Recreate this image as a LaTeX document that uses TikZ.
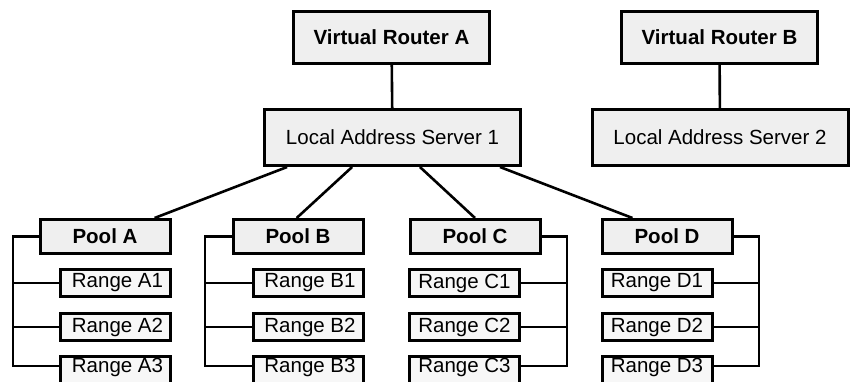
\documentclass[tikz,border=0pt]{standalone}
\usepackage{fontspec}
\setmainfont{Liberation Sans}
\usetikzlibrary{calc}
\definecolor{boxgray}{HTML}{EFEFEF}
\definecolor{rangegray}{HTML}{F7F7F7}
\begin{document}
\begin{tikzpicture}[x=1pt,y=-1pt,
  basebox/.style={draw, line width=3pt, fill=boxgray, inner sep=0pt, font=\fontsize{20.5}{24}\selectfont},
  routerbox/.style={basebox, font=\fontsize{20.5}{24}\selectfont\bfseries, minimum width=196pt, minimum height=52pt},
  serverbox/.style={basebox, minimum width=256pt, minimum height=56pt},
  poolbox/.style={basebox, font=\fontsize{20.5}{24}\selectfont\bfseries, minimum width=130pt, minimum height=34pt},
  rangebox/.style={basebox, fill=rangegray, minimum width=110pt, minimum height=27pt},
  rangetext/.style={font=\fontsize{20.5}{24}\selectfont},
  conn/.style={line width=2.6pt}]
\useasboundingbox (0,0) rectangle (853,382);
\clip (0,0) rectangle (853,382);

% top level
\node[routerbox] (vra) at (391.5,37.5) {Virtual Router A};
\node[routerbox] (vrb) at (719.5,37.5) {Virtual Router B};
\node[serverbox] (las1) at (392.5,137.5) {Local Address Server 1};
\node[serverbox] (las2) at (720,137.5) {Local Address Server 2};

% pools
\node[poolbox] (pa) at (105,236.5) {Pool A};
\node[poolbox] (pb) at (298,236.5) {Pool B};
\node[poolbox] (pc) at (475,236.5) {Pool C};
\node[poolbox] (pd) at (667,236.5) {Pool D};

% ranges
\foreach \n/\x in {a/115.5,b/308,c/464.5,d/657}{
  \node[rangebox] (r\n1) at (\x,283) {};
  \node[rangebox] (r\n2) at (\x,327) {};
  \node[rangebox] (r\n3) at (\x,369.5) {};
}
\node[rangetext, xshift=2pt] (ta1) at (ra1) {Range A1};
\node[rangetext, xshift=2pt] (ta2) at (ra2) {Range A2};
\node[rangetext, xshift=2pt, yshift=2pt] (ta3) at (ra3) {Range A3};
\node[rangetext, xshift=2pt] (tb1) at (rb1) {Range B1};
\node[rangetext, xshift=2pt] (tb2) at (rb2) {Range B2};
\node[rangetext, xshift=2pt, yshift=2pt] (tb3) at (rb3) {Range B3};
\node[rangetext] (tc1) at (rc1) {Range C1};
\node[rangetext] (tc2) at (rc2) {Range C2};
\node[rangetext, yshift=2pt] (tc3) at (rc3) {Range C3};
\node[rangetext] (td1) at (rd1) {Range D1};
\node[rangetext] (td2) at (rd2) {Range D2};
\node[rangetext, yshift=2pt] (td3) at (rd3) {Range D3};

% vertical links
\draw[conn] (vra) -- (las1);
\draw[conn] (vrb) -- (las2);

% server to pools
\draw[conn] ($(las1.south west)!0.093!(las1.south east)$) -- ($(pa.north west)!0.873!(pa.north east)$);
\draw[conn] ($(las1.south west)!0.344!(las1.south east)$) -- ($(pb.north west)!0.49!(pb.north east)$);
\draw[conn] ($(las1.south west)!0.606!(las1.south east)$) -- (pc.north);
\draw[conn] ($(las1.south west)!0.915!(las1.south east)$) -- ($(pd.north west)!0.24!(pd.north east)$);

% buses
\coordinate (ba) at (13,0);
\coordinate (bb) at (205,0);
\coordinate (bc) at (567,0);
\coordinate (bd) at (759,0);
\foreach \n/\side in {a/west,b/west,c/east,d/east}{
  \draw[conn] (p\n.\side) -| ($(b\n |- r\n3.\side)+(0,-3.5)$) -- ($(r\n3.\side)+(0,-3.5)$);
  \draw[conn] (b\n |- r\n1.\side) -- (r\n1.\side);
  \draw[conn] (b\n |- r\n2.\side) -- (r\n2.\side);
}
\end{tikzpicture}
\end{document}
